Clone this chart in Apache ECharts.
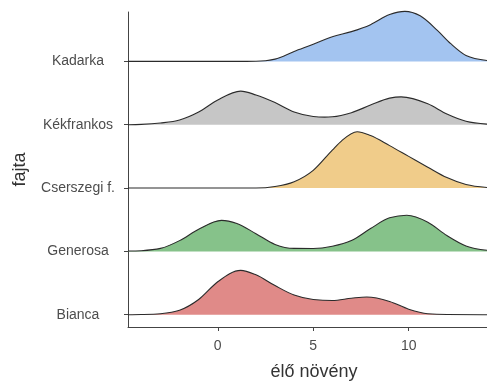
<!DOCTYPE html>
<html>
<head>
<meta charset="utf-8">
<script src="https://cdn.jsdelivr.net/npm/echarts@6/dist/echarts.min.js"></script>
<style>
html,body{margin:0;padding:0;background:#fff;}
#chart{width:487px;height:381px;}
</style>
</head>
<body>
<div id="chart"></div>
<script>
// categories from bottom (1) to top (5)
const categories = ['Bianca', 'Generosa', 'Cserszegi f.', 'Kékfrankos', 'Kadarka'];
const xTicks = [0, 5, 10];

// density ridges: x values and heights (in units of row spacing)
const biancaX = [-4.7, -4, -3, -2, -1, 0, 1.2, 2, 3, 4, 5, 6, 7, 7.8, 9, 10, 11, 12, 14.1];
const biancaH = [0, 0.003, 0.016, 0.07, 0.24, 0.52, 0.70, 0.63, 0.46, 0.31, 0.24, 0.225, 0.26, 0.28, 0.21, 0.087, 0.016, 0.003, 0];

const generosaX = [-4.7, -4, -3, -2, -1, 0.2, 1, 2, 3, 4, 5, 6, 7, 8, 9, 9.9, 11, 12, 13, 14.1];
const generosaH = [0.005, 0.011, 0.047, 0.17, 0.35, 0.49, 0.44, 0.28, 0.11, 0.047, 0.045, 0.08, 0.17, 0.36, 0.53, 0.57, 0.46, 0.25, 0.086, 0.018];

const cserszegiX = [-4.7, 2, 3, 4, 5, 6, 6.5, 7.3, 8, 9, 10, 11, 12, 13, 14.1];
const cserszegiH = [0, 0, 0.024, 0.10, 0.28, 0.60, 0.75, 0.89, 0.83, 0.67, 0.50, 0.33, 0.165, 0.055, 0.008];

const kekfrankosX = [-4.7, -4, -3, -2, -1, 0, 1.2, 2, 3, 4, 5, 5.6, 6, 7, 8, 9, 9.6, 11, 12, 13, 14.1];
const kekfrankosH = [0, 0.005, 0.027, 0.074, 0.20, 0.39, 0.53, 0.47, 0.35, 0.20, 0.13, 0.12, 0.125, 0.19, 0.31, 0.42, 0.44, 0.33, 0.17, 0.055, 0.01];

const kadarkaX = [-4.7, 1.5, 2.5, 3, 4, 5, 6, 7, 8, 9, 9.8, 10.6, 11.5, 12.2, 13, 14.1];
const kadarkaH = [0, 0, 0.01, 0.036, 0.157, 0.27, 0.39, 0.47, 0.58, 0.74, 0.79, 0.72, 0.49, 0.28, 0.094, 0.015];

const ridgeX = [biancaX, generosaX, cserszegiX, kekfrankosX, kadarkaX];
const ridgeH = [biancaH, generosaH, cserszegiH, kekfrankosH, kadarkaH];
const fillColors = ['#E08A88', '#86C28A', '#F0CC8A', '#C6C6C6', '#A3C4F0'];

const FONT = 'Liberation Sans, Arial, sans-serif';

// monotone cubic (Fritsch-Carlson) path through pixel points
function monotonePath(pts) {
  const n = pts.length;
  const h = [], s = [], m = [];
  for (let i = 0; i < n - 1; i++) {
    h[i] = pts[i + 1][0] - pts[i][0];
    s[i] = (pts[i + 1][1] - pts[i][1]) / h[i];
  }
  for (let i = 1; i < n - 1; i++) {
    const s0 = s[i - 1], s1 = s[i];
    if (s0 * s1 <= 0) { m[i] = 0; continue; }
    const p = (s0 * h[i] + s1 * h[i - 1]) / (h[i - 1] + h[i]);
    m[i] = (Math.sign(s0) + Math.sign(s1)) * Math.min(Math.abs(s0), Math.abs(s1), 0.5 * Math.abs(p));
  }
  m[0] = n > 2 ? (3 * s[0] - m[1]) / 2 : s[0];
  m[n - 1] = n > 2 ? (3 * s[n - 2] - m[n - 2]) / 2 : s[n - 2];
  if (s[0] * m[0] <= 0) m[0] = 0;
  if (s[n - 2] * m[n - 1] <= 0) m[n - 1] = 0;
  let d = 'M' + pts[0][0] + ' ' + pts[0][1];
  for (let i = 0; i < n - 1; i++) {
    const dx = h[i] / 3;
    d += ' C' + (pts[i][0] + dx) + ' ' + (pts[i][1] + m[i] * dx) + ' ' +
      (pts[i + 1][0] - dx) + ' ' + (pts[i + 1][1] - m[i + 1] * dx) + ' ' +
      pts[i + 1][0] + ' ' + pts[i + 1][1];
  }
  return d;
}

const series = categories.map(function (name, i) {
  const base = i + 1;
  const xs = ridgeX[i], hs = ridgeH[i];
  return {
    name: name,
    type: 'custom',
    coordinateSystem: 'cartesian2d',
    silent: true,
    z: 10 - i,
    encode: { x: 0, y: 1 },
    data: xs.map(function (x, k) { return [x, base + hs[k]]; }),
    renderItem: function (params, api) {
      if (params.dataIndexInside !== 0) return null;
      const n = params.dataInsideLength;
      const pts = [];
      for (let k = 0; k < n; k++) {
        pts.push(api.coord([api.value(0, k), api.value(1, k)]));
      }
      const first = api.coord([api.value(0, 0), base]);
      const last = api.coord([api.value(0, n - 1), base]);
      const curve = monotonePath(pts);
      const fillPath = curve + ' L' + last[0] + ' ' + last[1] + ' L' + first[0] + ' ' + first[1] + ' Z';
      return {
        type: 'group',
        children: [
          { type: 'path', shape: { pathData: fillPath }, style: { fill: fillColors[i], stroke: null } },
          { type: 'path', shape: { pathData: curve }, style: { fill: null, stroke: '#2b2b2b', lineWidth: 1.1 } }
        ]
      };
    }
  };
});

const chart = echarts.init(document.getElementById('chart'), null, { renderer: 'canvas' });
chart.setOption({
  animation: false,
  backgroundColor: '#ffffff',
  grid: { left: 128, right: 0, top: 12, bottom: 54, containLabel: false, outerBoundsMode: 'none' },
  xAxis: {
    type: 'value',
    min: -4.7,
    max: 14.1,
    name: 'élő növény',
    nameLocation: 'middle',
    nameGap: 36,
    nameTextStyle: { fontFamily: FONT, fontSize: 18, color: '#333333', padding: [0, 0, 0, 13] },
    axisLine: { show: true, onZero: false, lineStyle: { color: '#444444', width: 1 } },
    axisTick: { show: true, length: 4, lineStyle: { color: '#444444' }, customValues: xTicks },
    axisLabel: { show: true, margin: 12, fontFamily: FONT, fontSize: 14, color: '#4d4d4d', customValues: xTicks },
    splitLine: { show: false }
  },
  yAxis: {
    type: 'value',
    min: 0.806,
    max: 5.78,
    name: 'fajta',
    nameLocation: 'middle',
    nameGap: 99,
    nameRotate: 90,
    nameTextStyle: { fontFamily: FONT, fontSize: 18, color: '#333333' },
    axisLine: { show: true, onZero: false, lineStyle: { color: '#444444', width: 1 } },
    axisTick: { show: true, length: 4, lineStyle: { color: '#444444' }, customValues: [1, 2, 3, 4, 5] },
    axisLabel: {
      show: true,
      margin: 50,
      align: 'center',
      fontFamily: FONT,
      fontSize: 14,
      color: '#4d4d4d',
      customValues: [1, 2, 3, 4, 5],
      formatter: function (v) { return categories[Math.round(v) - 1] || ''; }
    },
    splitLine: { show: false }
  },
  series: series
});
</script>
</body>
</html>
